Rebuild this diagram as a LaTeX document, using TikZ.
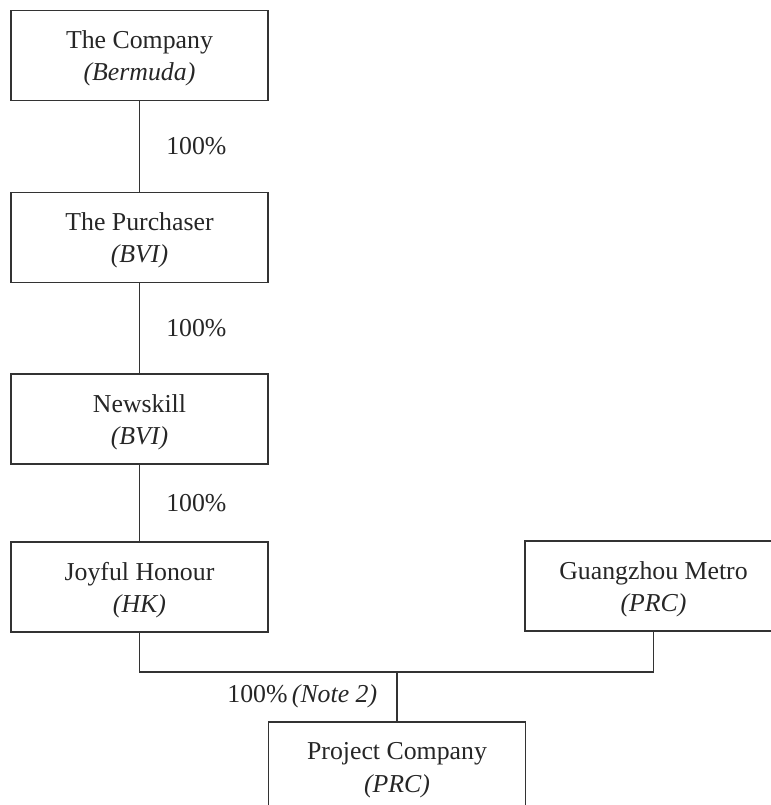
\documentclass[tikz,border=0pt]{standalone}
\usepackage{fontspec}
\setmainfont{Liberation Serif}
\begin{document}
\begin{tikzpicture}[x=0.5pt,y=-0.5pt,
  entity/.style={draw=black!80, line width=0.8pt, minimum width=128.5pt, minimum height=45pt,
    inner sep=0pt,
    label={[align=center, inner sep=0pt, yshift=-1.5pt, font=\fontsize{12.9}{16.2}\selectfont, text=black!85]center:#1}},
  link/.style={draw=black!80, line width=0.8pt},
  pct/.style={font=\fontsize{12.9}{16}\selectfont, text=black!85, inner sep=0pt}]
\useasboundingbox (0,0) rectangle (771,805);
\node[entity={The Company\\\textit{(Bermuda)}}] (b1) at (139.5,55.5) {};
\node[entity={The Purchaser\\\textit{(BVI)}}] (b2) at (139.5,237.5) {};
\node[entity={Newskill\\\textit{(BVI)}}] (b3) at (139.5,419) {};
\node[entity={Joyful Honour\\\textit{(HK)}}] (b4) at (139.5,587) {};
\node[entity={Guangzhou Metro\\\textit{(PRC)}}] (b5) at (653.5,586) {};
\node[entity={Project Company\\\textit{(PRC)}}] (b6) at (397,767) {};
\coordinate (j) at (397,672);
\draw[link] (b1.south) -- node[pct, anchor=west, xshift=13pt] (l1) {100\%} (b2.north);
\draw[link] (b2.south) -- node[pct, anchor=west, xshift=13pt] (l2) {100\%} (b3.north);
\draw[link] (b3.south) -- node[pct, anchor=west, xshift=13pt] (l3) {100\%} (b4.north);
\draw[link] (b4.south) |- (j) -| (b5.south);
\draw[link] (j) -- node[pct, anchor=east, xshift=-9.5pt] (l4) {100\%\,\textit{(Note 2)}} (b6.north);
\end{tikzpicture}
\end{document}
